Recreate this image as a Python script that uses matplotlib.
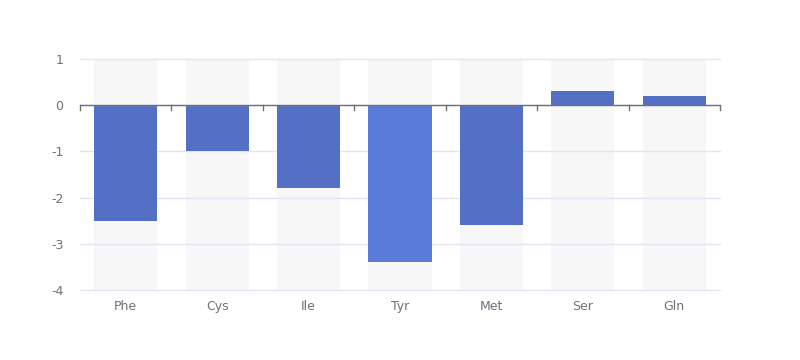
import numpy as np
import matplotlib.pyplot as plt

# dati
categorie = ["Phe", "Cys", "Ile", "Tyr", "Met", "Ser", "Gln"]
valori = [-2.5, -1.0, -1.8, -3.4, -2.6, 0.3, 0.2]
colori = ["#5470c6", "#5470c6", "#5470c6", "#5b7bd9", "#5470c6", "#5470c6", "#5470c6"]
yticks = [1, 0, -1, -2, -3, -4]

ymin, ymax = -4, 1
grigio = "#6e7079"

fig = plt.figure(figsize=(8, 3.6), dpi=100)
ax = fig.add_axes([0.1, 1 - 290/360, 0.8, 231/360])

x = np.arange(len(categorie))
larg = 0.69

# barre di sfondo
ax.bar(x, ymax - ymin, bottom=ymin, width=larg, color="#f7f7f7", zorder=1)
# griglia
for t in yticks:
    ax.axhline(t, color="#e0e6f1", lw=1, zorder=1.5, clip_on=False)
# barre dei dati
ax.bar(x, valori, width=larg, color=colori, zorder=2)

# asse a zero con tacche tra le categorie
ax.axhline(0, color=grigio, lw=1, zorder=3)
for b in np.arange(len(categorie) + 1) - 0.5:
    ax.plot([b, b], [0, -0.1], color=grigio, lw=1, zorder=3, clip_on=False)

ax.set_xlim(-0.5, len(categorie) - 0.5)
ax.set_ylim(ymin, ymax)
ax.set_yticks(yticks)
ax.set_yticklabels([str(t) for t in yticks])
ax.set_xticks(x)
ax.set_xticklabels(categorie)
ax.tick_params(axis="both", length=0, colors=grigio, labelsize=9)
ax.tick_params(axis="x", pad=7)
ax.tick_params(axis="y", pad=12)
for s in ax.spines.values():
    s.set_visible(False)

fig.savefig("out.png", dpi=100)
